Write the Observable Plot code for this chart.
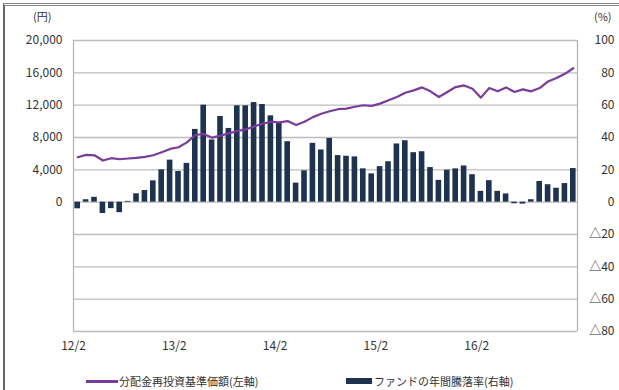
<!DOCTYPE html>
<html><head><meta charset="utf-8">
<script src="https://cdn.jsdelivr.net/npm/d3@7"></script>
<script src="https://cdn.jsdelivr.net/npm/@observablehq/plot@0.6"></script>
<style>
html,body{margin:0;padding:0;background:#fff;overflow:hidden;}
body{width:619px;height:390px;position:relative;font-family:"Noto Sans CJK JP",sans-serif;color:#333;}
#frame{position:absolute;left:3px;top:3px;width:660px;height:420px;border-left:2px solid #666;border-top:3px double #888;}
.unit{position:absolute;top:8px;font-size:11px;}
#chart{position:absolute;left:0;top:0;}
.lg{position:absolute;top:373px;font-size:11px;white-space:nowrap;line-height:16px;}
.sw{position:absolute;}
</style>
</head><body>
<div id="frame"></div>
<div id="chart"></div>
<div class="unit" style="left:33px">(円)</div>
<div class="unit" style="left:594px">(%)</div>
<div class="sw" style="left:86px;top:380px;width:32px;height:3px;background:#7a3c9c"></div>
<div class="lg" style="left:119px">分配金再投資基準価額(左軸)</div>
<div class="sw" style="left:346px;top:378px;width:26px;height:6px;background:#1d3350"></div>
<div class="lg" style="left:374px">ファンドの年間騰落率(右軸)</div>
<script>
// Monthly data, Feb 2012 .. Jan 2017 (60 months)
const navYen = [5560,5850,5800,5150,5440,5310,5400,5480,5600,5800,
  6170,6590,6790,7400,8310,8430,7980,8230,8510,8800,
  9000,9380,9700,9950,9870,10030,9540,9950,10520,10930,
  11250,11500,11580,11800,11990,11910,12190,12600,13010,13540,
  13830,14200,13710,13010,13630,14240,14440,14040,12930,14120,
  13710,14200,13630,13950,13710,14120,14940,15350,15880,16570];
const annualReturn = [-4.1,1.5,3,-7,-4,-6.5,0.5,5.2,7.2,13.2,
  20,26,19,24,45,60,38.5,53,45.6,59.6,
  59.6,61.6,60.4,53.4,48.7,37.4,11.8,19.4,36.4,32.3,
  39.4,28.8,28.4,28,20.6,17.5,22,25,36,38,
  30.6,31.2,21.4,13.5,19.8,20.6,22.4,17,6.7,13.3,
  6.7,5.1,-1,-1.2,1.5,12.8,10.8,8.6,11.5,20.8];
const xTickIndex = [0,12,24,36,48];
const xTickLabels = ["12/2","13/2","14/2","15/2","16/2"];
const rightTicks = [-80,-60,-40,-20,0,20,40,60,80,100];
const leftTicks = [0,4000,8000,12000,16000,20000];
const yenPerPct = 200; // left axis 20,000円 ↔ right axis 100%

const font = '"Noto Sans CJK JP", sans-serif';
const chart = Plot.plot({
  width: 619, height: 360,
  marginTop: 40, marginBottom: 29, marginLeft: 73, marginRight: 42,
  style: {fontFamily: font, fontSize: "12px", color: "#333", background: "transparent"},
  x: {domain: [0, 60]},
  y: {domain: [-80, 100]},
  marks: [
    Plot.gridY(rightTicks, {stroke: "#bdbdbd", strokeOpacity: 1, strokeWidth: 1.3}),
    Plot.ruleX([0, 60], {stroke: "#b5b5b5", strokeWidth: 1.3}),
    Plot.rectY(annualReturn, {x1: (d, i) => i, x2: (d, i) => i + 1, y1: 0, y2: d => d,
      insetLeft: 1.4, insetRight: 1.4, fill: "#1d3350"}),
    Plot.line(navYen, {x: (d, i) => i + 0.5, y: d => d / yenPerPct,
      stroke: "#7a3c9c", strokeWidth: 2.2, curve: "linear"}),
    Plot.axisY(leftTicks.map(v => v / yenPerPct), {anchor: "left", tickSize: 0, tickPadding: 11,
      tickFormat: d => d3.format(",")(Math.round(d * yenPerPct)), label: null}),
    Plot.axisY(rightTicks, {anchor: "right", tickSize: 0, tickPadding: 37, textAnchor: "end",
      tickFormat: d => d < 0 ? "△" + (-d) : String(d), label: null}),
    Plot.axisX(xTickIndex, {tickSize: 0, tickPadding: 10,
      tickFormat: d => xTickLabels[xTickIndex.indexOf(d)], label: null})
  ]
});
document.getElementById("chart").appendChild(chart);
</script>
</body></html>
